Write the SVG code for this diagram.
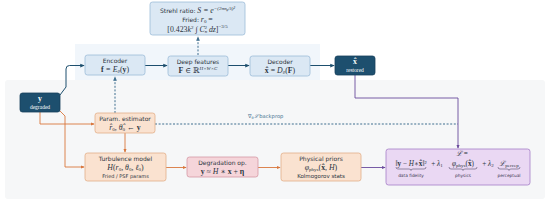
<svg xmlns="http://www.w3.org/2000/svg" width="550" height="205" viewBox="0 0 550 205">
<defs>
<style>
.lbl{font-family:"DejaVu Sans","Liberation Sans",sans-serif;font-size:6px;fill:#2b3440}
.m{font-family:"Liberation Serif","DejaVu Serif",serif;font-size:7.8px;fill:#2b3440;font-style:italic}
.lm{font-size:7.2px}
.b{font-weight:bold;font-style:normal}
.up{font-style:normal}
.sm{font-size:5px}
.wt{fill:#ffffff}
.blue{fill:#dbe8f4;stroke:#9dbcd8;stroke-width:0.8}
.dark{fill:#1d4f6e;stroke:#16405a;stroke-width:0.8}
.org{fill:#fae2d0;stroke:#e2ae88;stroke-width:0.8}
.pink{fill:#f5d5da;stroke:#d497a3;stroke-width:0.8}
.pur{fill:#ead8f3;stroke:#a57ec6;stroke-width:0.8}
.cb{fill:none;stroke:#1d4f6e;stroke-width:1}
.co{fill:none;stroke:#d9763c;stroke-width:0.9}
.cp{fill:none;stroke:#6a4a9c;stroke-width:0.9}
.dash{fill:none;stroke:#3f6f8f;stroke-width:1;stroke-dasharray:2,1.6}
.cap{font-family:"DejaVu Sans","Liberation Sans",sans-serif;font-size:4.3px;fill:#3a3550}
</style>
<marker id="ab" viewBox="0 0 6 6" refX="5" refY="3" markerWidth="4.5" markerHeight="4.5" orient="auto"><path d="M0,0.5 L6,3 L0,5.5 z" fill="#1d4f6e"/></marker>
<marker id="ao" viewBox="0 0 6 6" refX="5" refY="3" markerWidth="4.5" markerHeight="4.5" orient="auto"><path d="M0,0.5 L6,3 L0,5.5 z" fill="#d9763c"/></marker>
<marker id="ap" viewBox="0 0 6 6" refX="5" refY="3" markerWidth="4.5" markerHeight="4.5" orient="auto"><path d="M0,0.5 L6,3 L0,5.5 z" fill="#6a4a9c"/></marker>
<marker id="ad" viewBox="0 0 6 6" refX="5" refY="3" markerWidth="4.5" markerHeight="4.5" orient="auto"><path d="M0,0.5 L6,3 L0,5.5 z" fill="#3f6f8f"/></marker>
</defs>
<rect width="550" height="205" fill="#ffffff"/>
<g id="backgrounds">
<rect x="75" y="44" width="245" height="40" fill="#f1f6fb"/>
<rect x="5" y="80" width="540" height="119" rx="3" fill="#f6f7f8"/>
</g>
<g id="connectors">
<path class="cb" d="M60,95 L66,87 L66,69 Q66,65.5 69.5,65.5 L84,65.5" marker-end="url(#ab)"/>
<path class="cb" d="M145,65.5 L167,65.5" marker-end="url(#ab)"/>
<path class="cb" d="M228,65.5 L249,65.5" marker-end="url(#ab)"/>
<path class="cb" d="M310,65.5 L334,65.5" marker-end="url(#ab)"/>
<path class="dash" d="M198,55 L198,37" marker-end="url(#ad)"/>
<path class="dash" d="M115,113 L115,77" marker-end="url(#ad)"/>
<path class="dash" d="M155,124 L458,124"/>
<path class="cp" d="M355,75 L355,98 L458,98 L458,148" marker-end="url(#ap)"/>
<path class="co" d="M40,112 L40,124 L94,124" marker-end="url(#ao)"/>
<path class="co" d="M57,108 L65,116 L65,167 L84,167" marker-end="url(#ao)"/>
<path class="co" d="M125,133 L125,152" marker-end="url(#ao)"/>
<path class="co" d="M166,167.5 L186,167.5" marker-end="url(#ao)"/>
<path class="co" d="M258,167.5 L280,167.5" marker-end="url(#ao)"/>
<path class="cp" d="M361,167.5 L385,167.5" marker-end="url(#ap)"/>
<text x="248" y="118" class="lbl" style="font-size:5.2px;fill:#3f6f8f">∇<tspan dy="1" style="font-size:3.5px">θ</tspan><tspan dy="-1" font-family="Liberation Serif" font-style="italic">ℒ</tspan> backprop</text>
</g>
<g id="strehl">
<rect x="150" y="2" width="95" height="33" rx="2.5" class="blue"/>
<text x="197.5" y="12.5" text-anchor="middle" class="lbl">Strehl ratio: <tspan class="m">S = e</tspan><tspan class="m sm" dy="-3">−(2πσ</tspan><tspan class="m" style="font-size:3.5px" dy="1">φ</tspan><tspan class="m sm" dy="-1">/λ)²</tspan></text>
<text x="197.5" y="22" text-anchor="middle" class="lbl">Fried: <tspan class="m">r</tspan><tspan class="m up sm" dy="1">0</tspan><tspan class="m up" dy="-1">   =</tspan></text>
<text x="197.5" y="31.5" text-anchor="middle" class="m"><tspan class="up">[0.423</tspan>k<tspan class="up sm" dy="-3">2</tspan><tspan dy="3"> ∫ C</tspan><tspan class="sm" dy="1.5">n</tspan><tspan class="up sm" dx="-2.7" dy="-4.5">2</tspan><tspan dy="3"> dz</tspan><tspan class="up">]</tspan><tspan class="up sm" dy="-3.5">−3/5</tspan></text>
</g>
<g id="encoder">
<rect x="85" y="55" width="60" height="20" rx="2.5" class="blue"/>
<text x="115" y="63" text-anchor="middle" class="lbl">Encoder</text>
<text x="115" y="72" text-anchor="middle" class="m"><tspan class="b">f</tspan> = E<tspan class="sm" dy="1">θ</tspan><tspan class="up" dy="-1">(</tspan><tspan class="b">y</tspan><tspan class="up">)</tspan></text>
</g>
<g id="deep">
<rect x="168" y="56" width="60" height="20" rx="2.5" class="blue"/>
<text x="198" y="63.5" text-anchor="middle" class="lbl">Deep features</text>
<text x="198" y="72.5" text-anchor="middle" class="m"><tspan class="b">F</tspan> <tspan class="up">∈</tspan> <tspan class="up">ℝ</tspan><tspan class="sm" dy="-2.8">H×W×C</tspan></text>
</g>
<g id="decoder">
<rect x="250" y="56" width="60" height="20" rx="2.5" class="blue"/>
<text x="280" y="63.5" text-anchor="middle" class="lbl">Decoder</text>
<text x="280" y="72.5" text-anchor="middle" class="m"><tspan class="b">x̂</tspan> <tspan class="up">=</tspan> D<tspan class="sm" dy="1">θ</tspan><tspan class="up" dy="-1">(</tspan><tspan class="b">F</tspan><tspan class="up">)</tspan></text>
</g>
<g id="restored">
<rect x="335" y="56" width="40" height="19" rx="2.5" class="dark"/>
<text x="355" y="64" text-anchor="middle" class="m b wt">x̂</text>
<text x="355" y="72" text-anchor="middle" class="m up wt" style="font-size:5.5px">restored</text>
</g>
<g id="degraded">
<rect x="20" y="93" width="40" height="19" rx="2.5" class="dark"/>
<text x="40" y="101" text-anchor="middle" class="m b wt">y</text>
<text x="40" y="109" text-anchor="middle" class="m up wt" style="font-size:5.5px">degraded</text>
</g>
<g id="param">
<rect x="95" y="113" width="60" height="20" rx="2.5" class="org"/>
<text x="125" y="121" text-anchor="middle" class="lbl">Param. estimator</text>
<text x="125" y="130" text-anchor="middle" class="m">r̂<tspan class="up sm" dy="1">0</tspan><tspan dy="-1">, θ̂</tspan><tspan class="up sm" dy="1">0</tspan><tspan class="up" dy="-1"> ← </tspan><tspan class="b">y</tspan></text>
</g>
<g id="turbulence">
<rect x="85" y="153" width="81" height="28" rx="2.5" class="org"/>
<text x="125.5" y="160.5" text-anchor="middle" class="lbl">Turbulence model</text>
<text x="125.5" y="169.5" text-anchor="middle" class="m">H<tspan class="up">(</tspan>r<tspan class="up sm" dy="1">0</tspan><tspan dy="-1">, θ</tspan><tspan class="up sm" dy="1">0</tspan><tspan dy="-1">, ℓ</tspan><tspan class="up sm" dy="1">0</tspan><tspan dy="-1" class="up">)</tspan></text>
<text x="125.5" y="177.5" text-anchor="middle" class="lbl" style="font-size:5px">Fried / PSF params</text>
</g>
<g id="degradation">
<rect x="187" y="157" width="71" height="20" rx="2.5" class="pink"/>
<text x="222.5" y="165" text-anchor="middle" class="lbl">Degradation op.</text>
<text x="222.5" y="174" text-anchor="middle" class="m"><tspan class="b">y</tspan> <tspan class="up">≈</tspan> H <tspan class="up">∗</tspan> <tspan class="b">x</tspan> <tspan class="up">+</tspan> <tspan class="b">η</tspan></text>
</g>
<g id="priors">
<rect x="281" y="153" width="80" height="28" rx="2.5" class="org"/>
<text x="321" y="160.5" text-anchor="middle" class="lbl">Physical priors</text>
<text x="321" y="169.5" text-anchor="middle" class="m">φ<tspan class="up sm" dy="1">phys</tspan><tspan dy="-1" class="up">(</tspan><tspan class="b">x̂</tspan>, H<tspan class="up">)</tspan></text>
<text x="321" y="177.5" text-anchor="middle" class="lbl" style="font-size:5.5px">Kolmogorov stats</text>
</g>
<g id="loss">
<rect x="386" y="149" width="144" height="36" rx="2.5" class="pur"/>
<text x="462" y="156" text-anchor="middle" class="m lm">ℒ   <tspan class="up">=</tspan></text>
<text x="411" y="165.5" text-anchor="middle" class="m lm"><tspan class="up">‖</tspan><tspan class="b">y</tspan> <tspan class="up">−</tspan> H<tspan class="up">∗</tspan><tspan class="b">x̂</tspan><tspan class="up">‖²</tspan></text>
<text x="437" y="165.5" text-anchor="middle" class="m lm"><tspan class="up">+</tspan> λ<tspan class="up sm" dy="1">1</tspan></text>
<text x="463" y="165.5" text-anchor="middle" class="m lm">φ<tspan class="up sm" dy="1">phys</tspan><tspan dy="-1" class="up">(</tspan><tspan class="b">x̂</tspan><tspan class="up">)</tspan></text>
<text x="488" y="165.5" text-anchor="middle" class="m lm"><tspan class="up">+</tspan> λ<tspan class="up sm" dy="1">2</tspan></text>
<text x="509" y="165.5" text-anchor="middle" class="m lm">ℒ<tspan class="up sm" dy="1">percep</tspan></text>
<path d="M396,167 Q396,169 398,169 L409,169 Q411,169 411,170.5 Q411,169 413,169 L424,169 Q426,169 426,167" fill="none" stroke="#3a3550" stroke-width="0.5"/>
<path d="M449,167 Q449,169 451,169 L461,169 Q463,169 463,170.5 Q463,169 465,169 L475,169 Q477,169 477,167" fill="none" stroke="#3a3550" stroke-width="0.5"/>
<path d="M498,167 Q498,169 500,169 L507,169 Q509,169 509,170.5 Q509,169 511,169 L518,169 Q520,169 520,167" fill="none" stroke="#3a3550" stroke-width="0.5"/>
<text x="411" y="176.5" text-anchor="middle" class="cap">data fidelity</text>
<text x="463" y="176.5" text-anchor="middle" class="cap">physics</text>
<text x="509" y="176.5" text-anchor="middle" class="cap">perceptual</text>
</g>
</svg>
